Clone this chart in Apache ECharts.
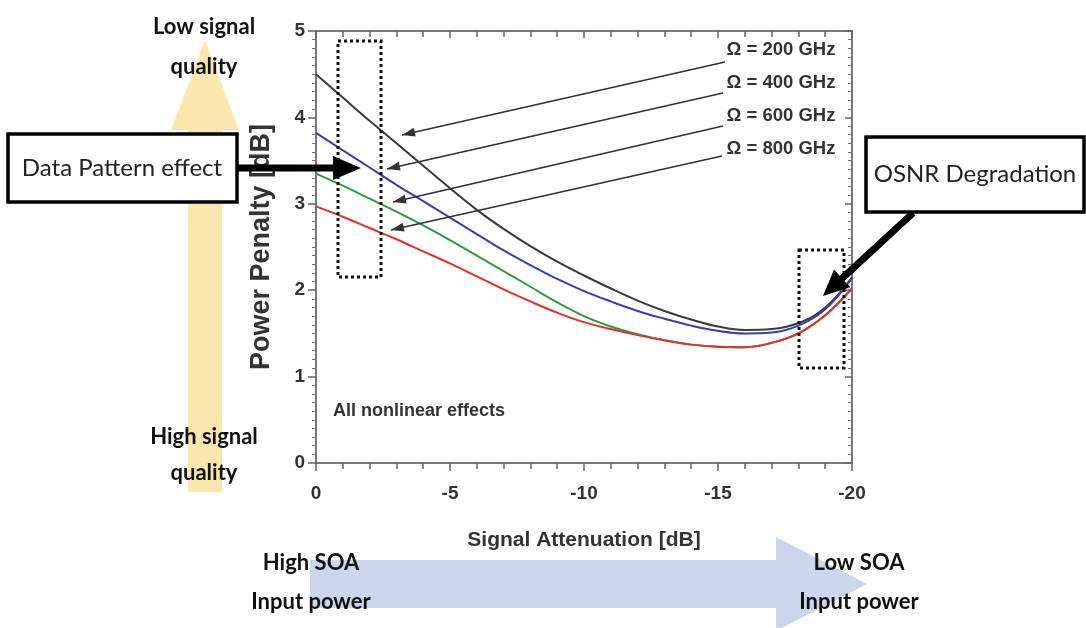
<!DOCTYPE html>
<html>
<head>
<meta charset="utf-8">
<script src="https://cdn.jsdelivr.net/npm/echarts@6/dist/echarts.min.js"></script>
<style>
  html, body { margin: 0; padding: 0; background: #fff; }
  #myChart { width: 1086px; height: 628px; }
</style>
</head>
<body>
<div id="myChart"></div>
<script>
let myChart = echarts.init(document.getElementById('myChart'));

// signal attenuation [dB]
const attenuation = [0, -1, -2, -3, -4, -5, -6, -7, -8, -9, -10, -11, -12, -13, -14, -15, -16, -17, -18, -19, -20];

// power penalty [dB] per Omega
const penalty200 = [4.50, 4.23, 3.96, 3.70, 3.44, 3.18, 2.93, 2.71, 2.51, 2.33, 2.17, 2.02, 1.88, 1.76, 1.66, 1.58, 1.54, 1.55, 1.62, 1.80, 2.15];
const penalty400 = [3.82, 3.62, 3.42, 3.22, 3.03, 2.84, 2.65, 2.46, 2.29, 2.13, 1.99, 1.87, 1.76, 1.67, 1.59, 1.53, 1.50, 1.51, 1.59, 1.78, 2.14];
const penalty600 = [3.35, 3.21, 3.06, 2.91, 2.75, 2.58, 2.40, 2.22, 2.04, 1.86, 1.70, 1.58, 1.49, 1.42, 1.37, 1.345, 1.34, 1.39, 1.50, 1.71, 2.02];
const penalty800 = [2.97, 2.85, 2.72, 2.59, 2.45, 2.31, 2.16, 2.01, 1.87, 1.74, 1.63, 1.55, 1.48, 1.42, 1.37, 1.345, 1.34, 1.39, 1.50, 1.71, 2.02];

const omegaLabels = ['Ω = 200 GHz', 'Ω = 400 GHz', 'Ω = 600 GHz', 'Ω = 800 GHz'];
const lineColors = ['#3a3a3a', '#3b3bb0', '#2f9a3f', '#e2302e'];

const allPenalties = [penalty200, penalty400, penalty600, penalty800];

function toPairs(values) {
  return attenuation.map(function (x, i) {
    return [x, values[i]];
  });
}

// polygon for a block arrow
function arrowShape(x1, y1, x2, y2, w, hl, hw) {
  const dx = x2 - x1, dy = y2 - y1;
  const len = Math.hypot(dx, dy);
  const ux = dx / len, uy = dy / len;
  const nx = -uy, ny = ux;
  const bx = x2 - ux * hl, by = y2 - uy * hl;
  return [
    [x1 + nx * w, y1 + ny * w],
    [bx + nx * w, by + ny * w],
    [bx + nx * hw, by + ny * hw],
    [x2, y2],
    [bx - nx * hw, by - ny * hw],
    [bx - nx * w, by - ny * w],
    [x1 - nx * w, y1 - ny * w],
  ];
}

function blockArrow(x1, y1, x2, y2, w, hl, hw, color, z) {
  return {
    type: 'polygon',
    z: z,
    shape: { points: arrowShape(x1, y1, x2, y2, w, hl, hw) },
    style: { fill: color },
  };
}

function thinArrow(x1, y1, x2, y2) {
  return [
    {
      type: 'line',
      z: 20,
      shape: { x1: x1, y1: y1, x2: x2, y2: y2 },
      style: { stroke: '#333', lineWidth: 1.6 },
    },
    blockArrow(x1, y1, x2, y2, 0.1, 13, 4.5, '#333', 20),
  ];
}

function label(text, x, y, size, weight, family, color, align) {
  return {
    type: 'text',
    z: 30,
    x: x,
    y: y,
    style: {
      text: text,
      fontSize: size,
      fontWeight: weight,
      fontFamily: family,
      fill: color,
      align: align || 'center',
      verticalAlign: 'middle',
    },
  };
}

const labelYs = [50, 83, 116, 149];
const arrowStarts = [[725, 62], [723, 93], [723, 126], [722, 156]];
const arrowEnds = [[402, 135], [387, 169], [393, 202], [391, 230]];

let graphics = [
  // signal quality arrow
  blockArrow(205, 492, 205, 40, 17, 90, 34, '#fbe6ae', 1),
  // SOA input power arrow
  blockArrow(310, 584, 867, 584, 24, 91, 47, '#c9d6ee', 1),
  label('Low signal', 204, 27, 22, 'bold', 'Lato', '#111'),
  label('quality', 204, 67, 22, 'bold', 'Lato', '#111'),
  label('High signal', 204, 437, 22, 'bold', 'Lato', '#111'),
  label('quality', 204, 473, 22, 'bold', 'Lato', '#111'),
  label('High SOA', 311, 563, 22, 'bold', 'Lato', '#111'),
  label('Input power', 311, 602, 22, 'bold', 'Lato', '#111'),
  label('Low SOA', 859, 563, 22, 'bold', 'Lato', '#111'),
  label('Input power', 859, 602, 22, 'bold', 'Lato', '#111'),
  // dotted boxes
  {
    type: 'rect', z: 25,
    shape: { x: 338, y: 41, width: 43, height: 236 },
    style: { fill: null, stroke: '#111', lineWidth: 3, lineDash: [3, 3] },
  },
  {
    type: 'rect', z: 25,
    shape: { x: 799, y: 250, width: 45, height: 118 },
    style: { fill: null, stroke: '#111', lineWidth: 3, lineDash: [3, 3] },
  },
  // Data pattern callout
  {
    type: 'rect', z: 26,
    shape: { x: 8, y: 134, width: 229, height: 68 },
    style: { fill: '#fff', stroke: '#000', lineWidth: 3.5 },
  },
  label('Data Pattern effect', 122, 168, 24, 'normal', 'Lato', '#222'),
  blockArrow(237, 168, 361, 168, 3.5, 28, 12, '#000', 27),
  // OSNR callout
  {
    type: 'rect', z: 26,
    shape: { x: 866, y: 137, width: 218, height: 75 },
    style: { fill: '#fff', stroke: '#000', lineWidth: 3.5 },
  },
  label('OSNR Degradation', 975, 174, 24, 'normal', 'Lato', '#222'),
  blockArrow(913, 213, 823, 296, 3.5, 26, 12, '#000', 27),
  label('All nonlinear effects', 333, 411, 18, 'bold', 'Liberation Sans', '#333', 'left'),
];

omegaLabels.forEach(function (t, i) {
  graphics.push(label(t, 781, labelYs[i], 18.5, 'bold', 'Liberation Sans', '#333'));
  graphics = graphics.concat(thinArrow(arrowStarts[i][0], arrowStarts[i][1], arrowEnds[i][0], arrowEnds[i][1]));
});

const axisFont = {
  fontSize: 19,
  fontWeight: 'bold',
  fontFamily: 'Liberation Sans',
  color: '#333',
};

const frameLine = { onZero: false, lineStyle: { color: '#777', width: 2 } };

let myChartOption = {
  backgroundColor: '#fff',
  animation: false,
  grid: {
    left: 316,
    right: 234,
    top: 31,
    bottom: 165,
  },
  xAxis: [
    {
      type: 'value',
      min: -20,
      max: 0,
      interval: 5,
      inverse: true,
      name: 'Signal Attenuation [dB]',
      nameLocation: 'middle',
      nameGap: 67,
      nameTextStyle: { fontSize: 21, fontWeight: 'bold', fontFamily: 'Liberation Sans', color: '#333' },
      axisLine: frameLine,
      axisTick: { length: 8, lineStyle: { color: '#666', width: 1.5 } },
      minorTick: { show: true, splitNumber: 5, length: 6, lineStyle: { color: '#666', width: 1.5 } },
      axisLabel: Object.assign({ margin: 21 }, axisFont),
      splitLine: { show: false },
    },
    {
      type: 'value',
      position: 'top',
      min: -20,
      max: 0,
      interval: 5,
      inverse: true,
      axisLine: frameLine,
      axisTick: { inside: true, length: 7, lineStyle: { color: '#666', width: 1.5 } },
      minorTick: { show: true, splitNumber: 5, length: 6, lineStyle: { color: '#666', width: 1.5 } },
      axisLabel: { show: false },
      splitLine: { show: false },
    },
  ],
  yAxis: [
    {
      type: 'value',
      min: 0,
      max: 5,
      interval: 1,
      name: 'Power Penalty [dB]',
      nameLocation: 'middle',
      nameGap: 41,
      nameTextStyle: { fontSize: 27, fontWeight: 'bold', fontFamily: 'Liberation Sans', color: '#333' },
      axisLine: frameLine,
      axisTick: { length: 8, lineStyle: { color: '#666', width: 1.5 } },
      minorTick: { show: true, splitNumber: 10, length: 4, lineStyle: { color: '#777', width: 1 } },
      axisLabel: Object.assign({ margin: 11 }, axisFont),
      splitLine: { show: false },
    },
    {
      type: 'value',
      position: 'right',
      min: 0,
      max: 5,
      interval: 1,
      axisLine: frameLine,
      axisTick: { inside: true, length: 7, lineStyle: { color: '#666', width: 1.5 } },
      minorTick: { show: true, splitNumber: 10, length: 4, lineStyle: { color: '#777', width: 1 } },
      axisLabel: { show: false },
      splitLine: { show: false },
    },
  ],
  series: allPenalties.map(function (values, i) {
    return {
      name: omegaLabels[i],
      type: 'line',
      xAxisIndex: 0,
      yAxisIndex: 0,
      data: toPairs(values),
      smooth: 0.4,
      showSymbol: false,
      z: 5 + i,
      lineStyle: { color: lineColors[i], width: 2 },
    };
  }),
  graphic: graphics,
};

myChart.setOption(myChartOption);
</script>
</body>
</html>
